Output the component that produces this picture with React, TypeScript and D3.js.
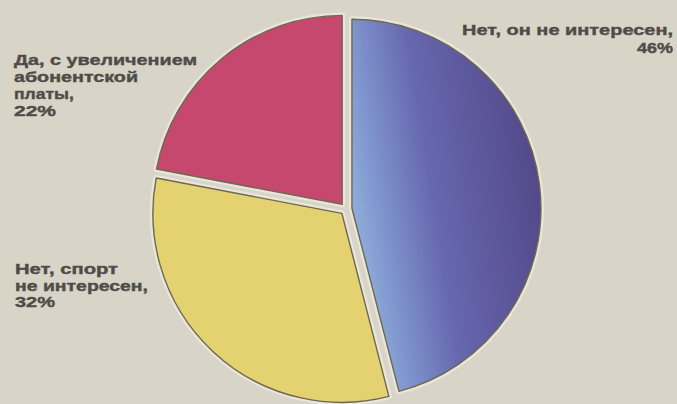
import React from "react";
import * as d3 from "d3";

// ---- data ----
const categories = ["Нет, он не интересен", "Нет, спорт не интересен", "Да, с увеличением абонентской платы"];
const values = [46, 32, 22];
const labelLines = [
  ["Нет, он не интересен,"],
  ["Нет, спорт", "не интересен,"],
  ["Да, с увеличением", "абонентской", "платы,"],
];

// ---- layout / style ----
const W = 677;
const H = 404;
const CX = 346;
const CY = 209;
const R = 189;
const EXPLODE = 6;
const BG = "#d9d4c8";
const TEXT = "#4f4c47";
const fills = ["url(#blueGrad)", "#e3d26f", "#c6486f"];
// label blocks: x, first baseline, line step, anchor, widths of each line (incl. percent line)
const labelLayout = [
  { x: 673, y: 35, step: 18, anchor: "end", widths: [211, 36] },
  { x: 15, y: 274, step: 16.5, anchor: "start", widths: [103, 133, 40] },
  { x: 14, y: 65, step: 17, anchor: "start", widths: [183, 124, 60, 42] },
];

export default function App() {
  const pie = d3
    .pie<number>()
    .sort(null)
    .value((d) => d)
    .startAngle(0)
    .endAngle(2 * Math.PI);
  const arcs = pie(values);
  const arc = d3.arc<d3.PieArcDatum<number>>().innerRadius(0).outerRadius(R);

  return (
    <div style={{ position: "absolute", left: 0, top: 0, width: W, height: H, overflow: "hidden" }}>
      <svg width={W} height={H} style={{ display: "block" }}>
        <defs>
          <linearGradient id="blueGrad" gradientUnits="userSpaceOnUse" x1={0} y1={20} x2={R} y2={-10}>
            <stop offset="0" stopColor="#92b0dc" />
            <stop offset="0.15" stopColor="#8097cf" />
            <stop offset="0.45" stopColor="#6667ae" />
            <stop offset="1" stopColor="#54498a" />
          </linearGradient>
        </defs>
        <rect x={0} y={0} width={W} height={H} fill={BG} />
        {arcs.map((a, i) => {
          const mid = (a.startAngle + a.endAngle) / 2;
          const dx = Math.sin(mid) * EXPLODE;
          const dy = -Math.cos(mid) * EXPLODE;
          return (
            <g key={"h" + i} transform={`translate(${CX + dx},${CY + dy})`}>
              <path d={arc(a) || ""} fill="none" stroke="#e9e5da" strokeWidth={6} strokeLinejoin="round" />
            </g>
          );
        })}
        {arcs.map((a, i) => {
          const mid = (a.startAngle + a.endAngle) / 2;
          const dx = Math.sin(mid) * EXPLODE;
          const dy = -Math.cos(mid) * EXPLODE;
          return (
            <g key={"s" + i} transform={`translate(${CX + dx},${CY + dy})`}>
              <path d={arc(a) || ""} fill={fills[i]} stroke="#6e6850" strokeWidth={1.4} strokeLinejoin="round" />
            </g>
          );
        })}
        {categories.map((c, i) => {
          const lay = labelLayout[i];
          const lines = [...labelLines[i], `${values[i]}%`];
          return (
            <g key={"l" + i}>
              {lines.map((t, j) => {
                const w = lay.widths[j];
                const x = lay.anchor === "end" ? lay.x - w : lay.x;
                return (
                  <text
                    key={j}
                    x={x}
                    y={lay.y + j * lay.step}
                    fill={TEXT}
                    stroke={TEXT}
                    strokeWidth={0.4}
                    fontFamily="'Liberation Sans', Arial, sans-serif"
                    fontWeight="bold"
                    fontSize={15}
                    textLength={w}
                    lengthAdjust="spacingAndGlyphs"
                  >
                    {t}
                  </text>
                );
              })}
            </g>
          );
        })}
      </svg>
    </div>
  );
}
